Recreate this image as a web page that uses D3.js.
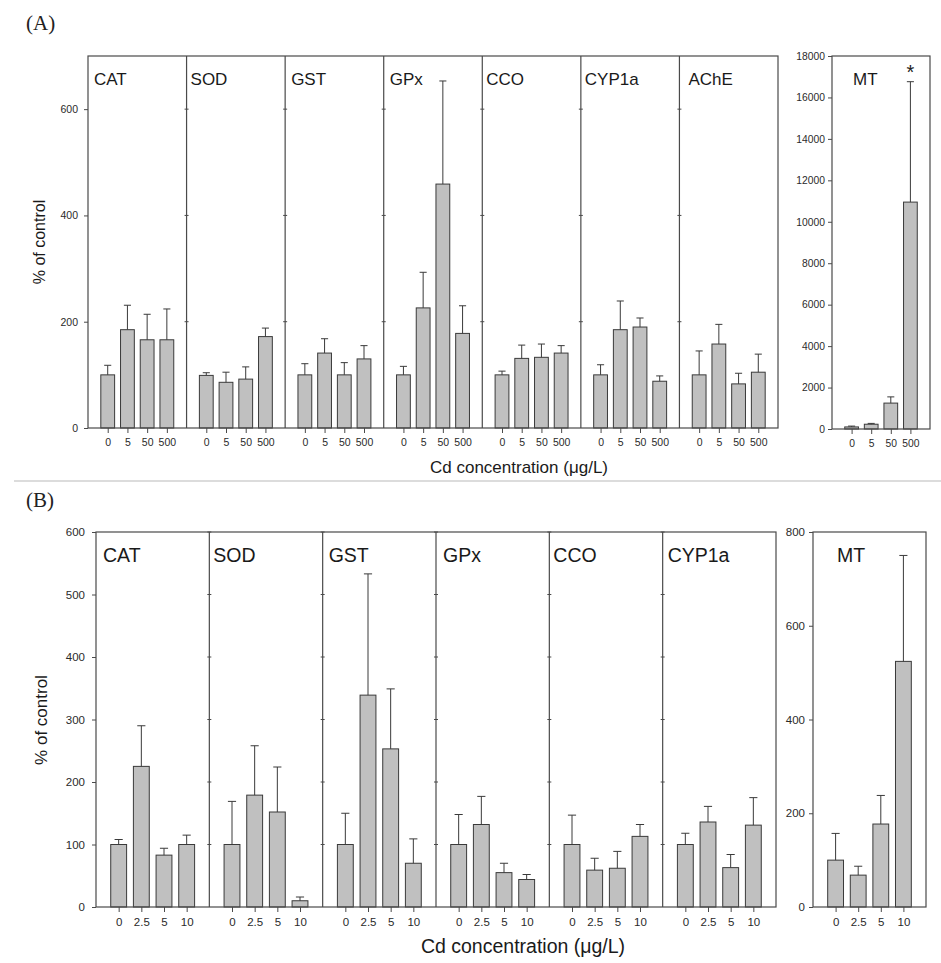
<!DOCTYPE html>
<html><head><meta charset="utf-8">
<script src="https://cdn.jsdelivr.net/npm/d3@7"></script>
<style>
body{margin:0;background:#fff}
svg{display:block}
text{font-family:"Liberation Sans",Arial,sans-serif}
</style>
</head><body>
<svg id="c" width="941" height="963"></svg>
<script>
// ---------- DATA ----------
// Panel (A)
const enzymesA = ["CAT","SOD","GST","GPx","CCO","CYP1a","AChE"];
const concA = ["0","5","50","500"];
const meanA = [
  [100,185,166,166],
  [99,86,92,172],
  [100,141,100,130],
  [100,226,459,178],
  [100,131,133,141],
  [100,185,190,88],
  [100,158,83,105]
];
const sdA = [
  [18,46,48,58],
  [5,19,23,16],
  [21,27,23,25],
  [16,67,194,52],
  [7,25,25,14],
  [19,54,17,10],
  [45,37,20,34]
];
const yTicksA = [0,200,400,600];
const mtMeanA = [100,230,1250,10950];
const mtSdA = [40,40,300,5810];
const mtTicksA = [0,2000,4000,6000,8000,10000,12000,14000,16000,18000];

// Panel (B)
const enzymesB = ["CAT","SOD","GST","GPx","CCO","CYP1a"];
const concB = ["0","2.5","5","10"];
const meanB = [
  [100,225,83,100],
  [100,179,152,10],
  [100,339,253,70],
  [100,132,55,44],
  [100,59,62,113],
  [100,136,63,131]
];
const sdB = [
  [8,65,11,15],
  [69,79,72,6],
  [50,194,96,39],
  [48,45,15,8],
  [47,19,27,19],
  [18,25,21,44]
];
const yTicksB = [0,100,200,300,400,500,600];
const mtMeanB = [100,68,177,524];
const mtSdB = [57,19,61,226];
const mtTicksB = [0,200,400,600,800];

// ---------- DRAW ----------
const svg = d3.select("#c");
const FRAME = "#4a4a4a", BAR = "#c0c0c0", BARSTROKE = "#3a3a3a", TXT = "#2a2a2a";

function drawGroup(o){
  const g = svg.append("g");
  const y = d3.scaleLinear().domain([0,o.max]).range([o.y1,o.y0]);
  const outer = d3.scaleBand().domain(o.names).range([o.x0,o.x1]).padding(0);
  const w = outer.bandwidth();
  o.names.forEach((name,i)=>{
    const px = outer(name);
    const xi = d3.scalePoint().domain(o.conc).range([px,px+w]).padding(1);
    const step = xi.step();
    const bw = step*0.7;
    // bars
    g.selectAll(null).data(o.means[i]).enter().append("rect")
      .attr("x",(d,j)=>xi(o.conc[j])-bw/2)
      .attr("y",d=>y(d))
      .attr("width",bw)
      .attr("height",d=>o.y1-y(d))
      .attr("fill",BAR).attr("stroke",BARSTROKE).attr("stroke-width",1);
    // error bars
    const cap = step*0.36;
    o.means[i].forEach((m,j)=>{
      const cx = xi(o.conc[j]);
      const top = y(m+o.sds[i][j]);
      g.append("line").attr("x1",cx).attr("x2",cx).attr("y1",y(m)).attr("y2",top)
        .attr("stroke",BARSTROKE).attr("stroke-width",1);
      g.append("line").attr("x1",cx-cap/2).attr("x2",cx+cap/2).attr("y1",top).attr("y2",top)
        .attr("stroke",BARSTROKE).attr("stroke-width",1);
    });
    // bottom axis
    const ax = d3.axisBottom(xi).tickSize(5).tickPadding(6);
    const axg = g.append("g").attr("transform",`translate(0,${o.y1})`).call(ax);
    axg.select(".domain").remove();
    axg.selectAll(".tick line").attr("stroke",FRAME);
    axg.selectAll(".tick text").attr("font-size",o.tickFs).attr("fill",TXT)
      .style("font-family",'"Liberation Sans",Arial,sans-serif');
    // label
    g.append("text").attr("x",px+o.labelDx[i]).attr("y",o.labelY).text(name)
      .attr("font-size",o.labelFs).attr("fill","#1a1a1a");
    // divider ticks (inner)
    if(i>0){
      o.ticks.forEach(t=>{
        if(t===0) return;
        g.append("line").attr("x1",px-2).attr("x2",px+2).attr("y1",y(t)).attr("y2",y(t))
          .attr("stroke",FRAME).attr("stroke-width",1);
      });
      g.append("line").attr("x1",px).attr("x2",px).attr("y1",o.y0).attr("y2",o.y1)
        .attr("stroke",FRAME).attr("stroke-width",1.2);
    }
  });
  // frame
  g.append("rect").attr("x",o.x0).attr("y",o.y0).attr("width",o.x1-o.x0).attr("height",o.y1-o.y0)
    .attr("fill","none").attr("stroke",FRAME).attr("stroke-width",1.2);
  // left axis
  const ay = d3.axisLeft(y).tickValues(o.ticks).tickSize(4).tickPadding(o.tickPad).tickFormat(d3.format("d"));
  const ayg = g.append("g").attr("transform",`translate(${o.x0},0)`).call(ay);
  ayg.select(".domain").remove();
  ayg.selectAll(".tick line").attr("stroke",FRAME);
  ayg.selectAll(".tick text").attr("font-size",o.tickFs).attr("fill",TXT)
    .style("font-family",'"Liberation Sans",Arial,sans-serif');
  return {g,y,outer};
}

// separator
svg.append("line").attr("x1",14).attr("x2",941).attr("y1",481).attr("y2",481)
  .attr("stroke","#dcdcdc").attr("stroke-width",2);

// Panel A
svg.append("text").attr("x",26).attr("y",30).text("(A)")
  .style("font-family",'"Liberation Serif","DejaVu Serif",serif').attr("font-size",21).attr("fill","#222");
drawGroup({x0:88,x1:778,y0:56,y1:428,max:700,names:enzymesA,conc:concA,means:meanA,sds:sdA,
  ticks:yTicksA,tickFs:10.5,tickPad:6,labelFs:17,labelY:85,labelDx:[6,4,6,6,4,4,9]});
const mtA = drawGroup({x0:832,x1:930,y0:56,y1:429,max:18000,names:["MT"],conc:concA,means:[mtMeanA],sds:[mtSdA],
  ticks:mtTicksA,tickFs:10.3,tickPad:3,labelFs:17,labelY:85,labelDx:[21]});
// asterisk
svg.append("text").attr("x",mtA.outer("MT")+mtA.outer.bandwidth()*0.8).attr("y",mtA.y(mtMeanA[3]+mtSdA[3])-3)
  .attr("text-anchor","middle").attr("font-size",20).attr("fill","#222").text("*");
svg.append("text").attr("transform","translate(45,242) rotate(-90)").attr("text-anchor","middle")
  .attr("font-size",16).attr("fill","#1a1a1a").text("% of control");
svg.append("text").attr("x",519).attr("y",473).attr("text-anchor","middle")
  .attr("font-size",17).attr("fill","#1a1a1a").text("Cd concentration (\u03bcg/L)");

// Panel B
svg.append("text").attr("x",26).attr("y",507).text("(B)")
  .style("font-family",'"Liberation Serif","DejaVu Serif",serif').attr("font-size",21).attr("fill","#222");
drawGroup({x0:96,x1:776,y0:532,y1:907,max:600,names:enzymesB,conc:concB,means:meanB,sds:sdB,
  ticks:yTicksB,tickFs:11.5,tickPad:7,labelFs:19.5,labelY:562,labelDx:[7,4,6,7,4,5]});
drawGroup({x0:813,x1:926,y0:532,y1:907,max:800,names:["MT"],conc:concB,means:[mtMeanB],sds:[mtSdB],
  ticks:mtTicksB,tickFs:11.5,tickPad:4,labelFs:19.5,labelY:562,labelDx:[24]});
svg.append("text").attr("transform","translate(47,720) rotate(-90)").attr("text-anchor","middle")
  .attr("font-size",17).attr("fill","#1a1a1a").text("% of control");
svg.append("text").attr("x",523).attr("y",953).attr("text-anchor","middle")
  .attr("font-size",19.5).attr("fill","#1a1a1a").text("Cd concentration (\u03bcg/L)");
</script>
</body></html>
